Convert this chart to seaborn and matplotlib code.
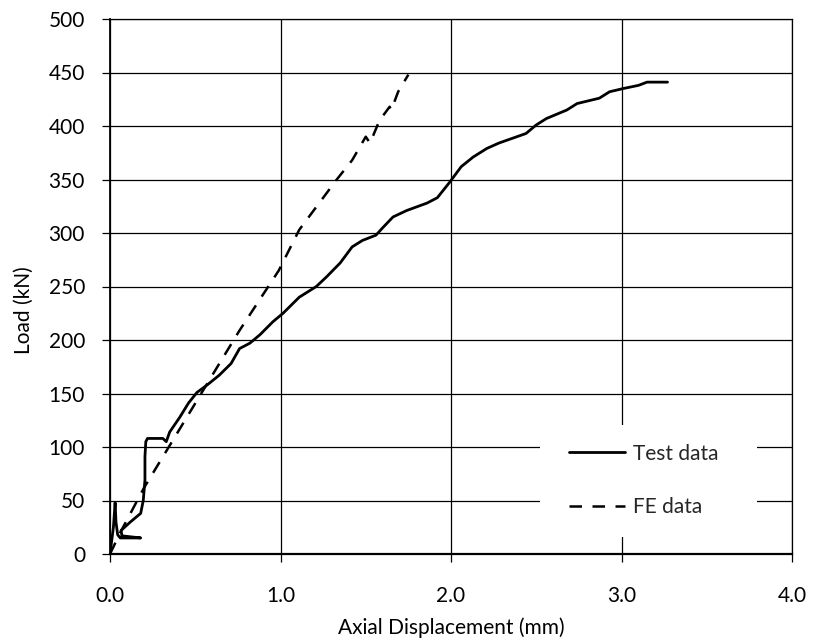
import matplotlib
matplotlib.use("Agg")
import matplotlib.pyplot as plt
import seaborn as sns
import pandas as pd
from matplotlib.patches import Rectangle

# Test data (axial displacement mm, load kN)
test_x = [0.0, 0.02, 0.03, 0.035, 0.045, 0.06, 0.18, 0.07, 0.065, 0.12, 0.18, 0.195, 0.205,
          0.205, 0.21, 0.22, 0.27, 0.31, 0.33, 0.35, 0.41, 0.46, 0.51, 0.57, 0.64, 0.71, 0.76,
          0.82, 0.88, 0.955, 1.015, 1.11, 1.21, 1.27, 1.35, 1.42, 1.48, 1.56, 1.60, 1.66,
          1.74, 1.86, 1.92, 1.99, 2.06, 2.13, 2.21, 2.28, 2.44, 2.50, 2.56, 2.68, 2.74, 2.87,
          2.93, 3.01, 3.10, 3.15, 3.27]
test_y = [0, 25, 48, 30, 18, 15, 15, 17, 22, 30, 38, 50, 69,
          91, 105, 108, 108, 108, 105, 114, 128, 141, 151, 158, 167, 178, 192,
          197, 205, 217, 225, 240, 250, 259, 272, 287, 293, 298, 305, 315,
          321, 328, 333, 347, 362, 371, 379, 384, 393, 401, 407, 415, 421, 426,
          432, 435, 438, 441, 441]

# FE data
fe_x = [0.0, 0.06, 0.20, 0.36, 0.63, 0.76, 0.99, 1.11, 1.33, 1.42, 1.50, 1.525, 1.58,
        1.64, 1.65, 1.69, 1.75]
fe_y = [0, 20, 62, 104, 175, 209, 265, 303, 350, 368, 390, 384, 405,
        418, 415, 432, 448]

x_ticks = [0.0, 1.0, 2.0, 3.0, 4.0]
x_tick_labels = ["0.0", "1.0", "2.0", "3.0", "4.0"]
y_ticks = list(range(0, 501, 50))

sns.set_style("ticks")
plt.rcParams['font.family'] = ['Lato', 'DejaVu Sans']

fig = plt.figure(figsize=(8.14, 6.44), dpi=100)
ax = fig.add_axes([110 / 814, 90 / 644, 682 / 814, 535 / 644])

df_test = pd.DataFrame({"x": test_x, "y": test_y})
df_fe = pd.DataFrame({"x": fe_x, "y": fe_y})

sns.lineplot(data=df_test, x="x", y="y", sort=False, estimator=None, ax=ax,
             color="black", linewidth=2.0, label="Test data", zorder=5)
sns.lineplot(data=df_fe, x="x", y="y", sort=False, estimator=None, ax=ax,
             color="black", linewidth=1.8, linestyle=(0, (5, 4.2)), label="FE data", zorder=5)

ax.set_xlim(0, 4)
ax.set_ylim(0, 500)
ax.set_xticks(x_ticks)
ax.set_xticklabels(x_tick_labels)
ax.set_yticks(y_ticks)
ax.grid(True, color="black", linewidth=0.9)
ax.set_axisbelow(True)

for s in ax.spines.values():
    s.set_color("black")
    s.set_linewidth(0.9)
ax.spines["bottom"].set_linewidth(1.6)
ax.spines["left"].set_linewidth(1.3)

ax.tick_params(axis="both", direction="out", length=6, width=0.9, color="black",
               labelsize=15, labelcolor="black")
ax.tick_params(axis="x", pad=17)
ax.tick_params(axis="y", pad=12)

ax.set_xlabel("Axial Displacement (mm)", fontsize=15, color="black")
ax.set_ylabel("Load (kN)", fontsize=15, color="black")
ax.xaxis.set_label_coords(0.5, (554 - 617) / 535)
ax.yaxis.set_label_coords((34 - 110) / 682, (554 - 310) / 535)

# white legend area covering gridlines
ax.add_patch(Rectangle((0.630, 0.032), 0.319, 0.209, transform=ax.transAxes,
                       facecolor="white", edgecolor="none", zorder=3))

leg = ax.legend(loc="center left", bbox_to_anchor=(0.673, 0.1375), frameon=False,
                fontsize=15, handlelength=2.7, handletextpad=0.35, labelspacing=1.6,
                borderpad=0, borderaxespad=0)
leg.set_zorder(6)

fig.savefig("out.png", dpi=100)
